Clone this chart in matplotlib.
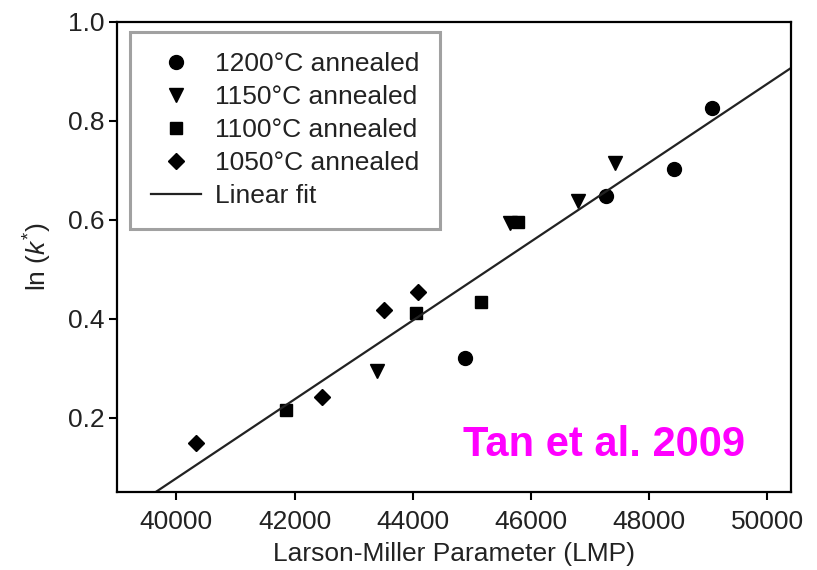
import matplotlib.pyplot as plt
import numpy as np

plt.rcParams['font.family'] = ['Liberation Sans', 'DejaVu Sans']
plt.rcParams['mathtext.fontset'] = 'custom'
plt.rcParams['mathtext.it'] = 'Liberation Sans:italic'
plt.rcParams['mathtext.rm'] = 'Liberation Sans'

# values
lmp_1200 = [49070, 48420, 47270, 44890]
lnk_1200 = [0.825, 0.702, 0.648, 0.320]
lmp_1150 = [47420, 46800, 45640, 43390]
lnk_1150 = [0.714, 0.638, 0.593, 0.295]
lmp_1100 = [45780, 45150, 44060, 41850]
lnk_1100 = [0.596, 0.433, 0.411, 0.216]
lmp_1050 = [44090, 43510, 42460, 40340]
lnk_1050 = [0.453, 0.418, 0.241, 0.150]
fit_lmp = [39650, 50400]
fit_lnk = [0.05, 0.906]

txt = '#222222'
fig = plt.figure(figsize=(8.17, 5.70), dpi=100)
ax = fig.add_axes([0.1436, 0.1368, 0.8242, 0.8252])

ax.plot(lmp_1200, lnk_1200, 'o', color='black', ms=10, label='1200°C annealed')
ax.plot(lmp_1150, lnk_1150, 'v', color='black', ms=10, label='1150°C annealed')
ax.plot(lmp_1100, lnk_1100, 's', color='black', ms=9, label='1100°C annealed')
ax.plot(lmp_1050, lnk_1050, 'D', color='black', ms=8.5, label='1050°C annealed')
ax.plot(fit_lmp, fit_lnk, '-', color='#222222', lw=1.6, label='Linear fit')

ax.set_xlim(39000, 50400)
ax.set_ylim(0.05, 1.0)
ax.set_xticks(np.arange(40000, 50001, 2000))
ax.set_yticks([0.2, 0.4, 0.6, 0.8, 1.0])
ax.set_yticklabels(['0.2', '0.4', '0.6', '0.8', '1.0'])
ax.tick_params(labelsize=19, labelcolor=txt, length=6, width=1.5, direction='out')
ax.tick_params(axis='x', pad=7)
for s in ax.spines.values():
    s.set_linewidth(1.6)

ax.set_xlabel('Larson-Miller Parameter (LMP)', fontsize=19, color=txt, labelpad=6)
ax.set_ylabel(r'ln ($\it{k}^{*}$)', fontsize=19, color=txt, labelpad=10)

leg = ax.legend(loc='upper left', bbox_to_anchor=(0.019, 0.979), fontsize=19,
                frameon=True, fancybox=False, edgecolor='#8a8a8a',
                handlelength=1.9, handletextpad=0.55, labelspacing=0.34,
                borderpad=0.78, borderaxespad=0)
leg.get_frame().set_linewidth(2.2)
for t in leg.get_texts():
    t.set_color(txt)

ax.text(0.932, 0.10, 'Tan et al. 2009', transform=ax.transAxes, ha='right', va='center',
        fontsize=30, fontweight='bold', color='#ff00ff')

fig.savefig('out.png', dpi=100)
